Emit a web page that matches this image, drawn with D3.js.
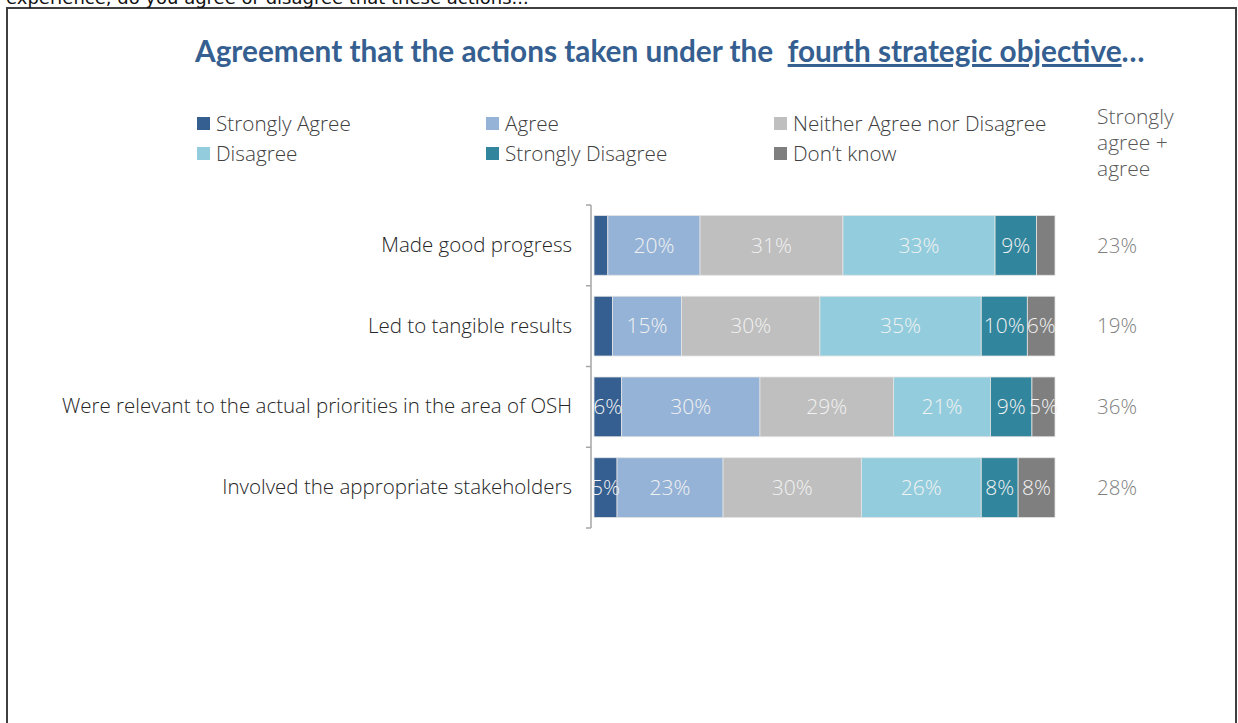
<!DOCTYPE html>
<html>
<head>
<meta charset="utf-8">
<script src="https://cdn.jsdelivr.net/npm/d3@7"></script>
<style>
  body { margin: 0; background: #fff; }
  svg { display: block; }
  .light { font-family: "Open Sans", "Noto Sans", sans-serif; font-weight: 300; }
</style>
</head>
<body>
<svg id="chart" width="1238" height="723"></svg>
<script>
// Survey statements (one bar each)
const categories = [
  "Made good progress",
  "Led to tangible results",
  "Were relevant to the actual priorities in the area of OSH",
  "Involved the appropriate stakeholders"
];

// Response options, in stacking order
const seriesNames = [
  "Strongly Agree",
  "Agree",
  "Neither Agree nor Disagree",
  "Disagree",
  "Strongly Disagree",
  "Don\u2019t know"
];

// Share of respondents (%) per statement
const stronglyAgree    = [3, 4, 6, 5];
const agree            = [20, 15, 30, 23];
const neither          = [31, 30, 29, 30];
const disagree         = [33, 35, 21, 26];
const stronglyDisagree = [9, 10, 9, 8];
const dontKnow         = [4, 6, 5, 8];

const seriesColors = ["#365f91", "#95b3d7", "#bfbfbf", "#93cddd", "#31859c", "#7f7f7f"];

const W = 1238, H = 723;
const svg = d3.select("#chart");

// Table built from the arrays above for d3.stack
const seriesValues = [stronglyAgree, agree, neither, disagree, stronglyDisagree, dontKnow];
const rows = categories.map((c, i) => {
  const r = { category: c };
  seriesNames.forEach((s, k) => { r[s] = seriesValues[k][i]; });
  return r;
});
const stacked = d3.stack().keys(seriesNames)(rows);

// Frame around the slide content
svg.append("path")
  .attr("d", `M7,${H + 2} V8 H1236 V${H + 2}`)
  .attr("fill", "none")
  .attr("stroke", "#3f3f3f")
  .attr("stroke-width", 2);

// Question text running above the frame
svg.append("text")
  .attr("x", 6).attr("y", 4)
  .attr("font-family", "DejaVu Sans")
  .attr("font-size", 18)
  .attr("fill", "#111")
  .text("experience, do you agree or disagree that these actions...");

// Title, sized to span its row
const title = svg.append("text")
  .attr("x", 195).attr("y", 62)
  .attr("font-family", "Lato, 'Open Sans', sans-serif")
  .attr("font-weight", 700)
  .attr("font-size", 25)
  .attr("fill", "#365f91");
title.append("tspan").text("Agreement that the actions taken under the\u00a0 ");
title.append("tspan").attr("text-decoration", "underline").text("fourth strategic objective");
title.append("tspan").text("\u2026");
const tw = title.node().getComputedTextLength();
title.attr("font-size", 25 * 950 / tw);

// Scales
const x = d3.scaleLinear().domain([0, 100]).range([594, 1055]);
const y = d3.scaleBand().domain(categories).range([205, 528]).paddingInner(0.26).paddingOuter(0.13);
const color = d3.scaleOrdinal().domain(seriesNames).range(seriesColors);

// Legend: three columns, two rows
const legendCols = [197, 486, 774];
const legendRows = [124, 154];
const legend = svg.append("g");
seriesNames.forEach((s, i) => {
  const lx = legendCols[i % 3], ly = legendRows[Math.floor(i / 3)];
  legend.append("rect")
    .attr("x", lx).attr("y", ly - 7)
    .attr("width", 13).attr("height", 13)
    .attr("fill", color(s));
  legend.append("text")
    .attr("class", "light")
    .attr("x", lx + 19).attr("y", ly)
    .attr("dy", "0.35em")
    .attr("font-size", 20.7)
    .attr("fill", "#404040")
    .text(s);
});

// Header of the combined column
const header = svg.append("text")
  .attr("class", "light")
  .attr("x", 1097).attr("y", 124)
  .attr("font-size", 21)
  .attr("fill", "#595959");
["Strongly", "agree +", "agree"].forEach((t, i) => {
  header.append("tspan").attr("x", 1097).attr("y", 124 + i * 26).text(t);
});

// Category axis: line with ticks at band boundaries, labels to the left
const axisG = svg.append("g").attr("transform", "translate(591,0)");
axisG.call(d3.axisLeft(y).tickSize(0).tickPadding(19))
  .call(g => g.select(".domain").remove())
  .call(g => g.selectAll("text")
    .attr("class", "light")
    .attr("font-size", 20.5)
    .attr("fill", "#262626"));
const boundaries = d3.range(categories.length + 1).map(i => y.range()[0] + i * y.step());
axisG.append("line")
  .attr("x1", 0).attr("x2", 0)
  .attr("y1", boundaries[0]).attr("y2", boundaries[boundaries.length - 1])
  .attr("stroke", "#a6a6a6").attr("stroke-width", 1.5);
axisG.selectAll(".bt").data(boundaries).join("line")
  .attr("class", "bt")
  .attr("x1", -5).attr("x2", 0)
  .attr("y1", d => d).attr("y2", d => d)
  .attr("stroke", "#a6a6a6").attr("stroke-width", 1.5);

// Stacked bars
const layers = svg.append("g").selectAll("g").data(stacked).join("g")
  .attr("fill", d => color(d.key));
layers.selectAll("rect").data(d => d).join("rect")
  .attr("x", d => x(d[0]))
  .attr("y", d => y(d.data.category))
  .attr("width", d => x(d[1]) - x(d[0]))
  .attr("height", y.bandwidth())
  .attr("stroke", "#e4e4e4")
  .attr("stroke-width", 0.8);

// Value labels inside segments of 5% or more
const labelG = svg.append("g");
stacked.forEach(layer => {
  layer.forEach(d => {
    const v = d[1] - d[0];
    if (v < 5) return;
    labelG.append("text")
      .attr("class", "light")
      .attr("x", (x(d[0]) + x(d[1])) / 2)
      .attr("y", y(d.data.category) + y.bandwidth() / 2)
      .attr("dy", "0.35em")
      .attr("text-anchor", "middle")
      .attr("font-size", 21)
      .attr("fill", "#f2f2f2")
      .text(v + "%");
  });
});

// Strongly agree + agree totals
svg.append("g").selectAll("text").data(categories).join("text")
  .attr("class", "light")
  .attr("x", 1097)
  .attr("y", c => y(c) + y.bandwidth() / 2)
  .attr("dy", "0.35em")
  .attr("font-size", 20.5)
  .attr("fill", "#7f7f7f")
  .text((c, i) => (stronglyAgree[i] + agree[i]) + "%");
</script>
</body>
</html>
